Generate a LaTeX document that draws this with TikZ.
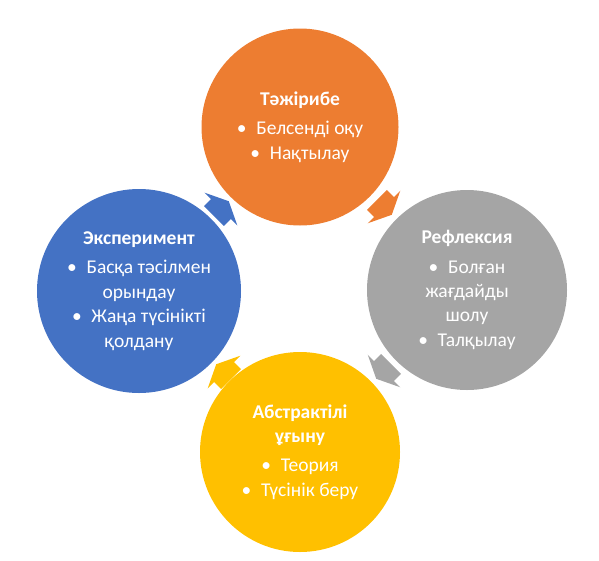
\documentclass[tikz,border=0pt]{standalone}
\usepackage{fontspec}
\setmainfont{Carlito}
\usetikzlibrary{positioning}
\definecolor{stOrange}{HTML}{ED7D31}
\definecolor{stGray}{HTML}{A5A5A5}
\definecolor{stYellow}{HTML}{FFC000}
\definecolor{stBlue}{HTML}{4472C4}
\newcommand{\blt}{•\hspace{0.5em}}
\tikzset{
  kez/.style={circle,draw=none,minimum size=200pt,inner sep=0pt,text=white,align=center,font=\fontsize{19.5}{24.4}\selectfont},
  tsp/.pic={\path[pic actions] (-10pt,-14pt) -- (0pt,-14pt) -- (0pt,-23pt) -- (11pt,0pt) -- (0pt,23pt) -- (0pt,14pt) -- (-10pt,14pt) -- cycle;},
}
\begin{document}
\begin{tikzpicture}[x=1pt,y=-1pt]
  \useasboundingbox (0,0) rectangle (599,560);
  \node[kez,fill=stOrange,minimum size=197pt] (taj) at (300,127) {\textbf{Тәжірибе}\\[5pt] \blt Белсенді оқу\\ \blt Нақтылау};
  \node[kez,fill=stGray] (ref) at (467,290) {\textbf{Рефлексия}\\[5pt] \blt Болған\\ жағдайды\\ шолу\\ \blt Талқылау};
  \node[kez,fill=stYellow] (abs) at (300,452) {\textbf{Абстрактілі}\\ \textbf{ұғыну}\\[5pt] \blt Теория\\ \blt Түсінік беру};
  \node[kez,fill=stBlue,minimum size=204pt] (eks) at (139,291) {\textbf{Эксперимент}\\[5pt] \blt Басқа тәсілмен\\ орындау\\ \blt Жаңа түсінікті\\ қолдану};
  % cycle arrows
  \pic[fill=stBlue,rotate=45] at (221,209) {tsp};
  \pic[fill=stOrange,rotate=-45] at (384,207) {tsp};
  \pic[fill=stGray,rotate=-135] at (384,371) {tsp};
  \pic[fill=stYellow,rotate=135] at (224,372) {tsp};
\end{tikzpicture}
\end{document}
